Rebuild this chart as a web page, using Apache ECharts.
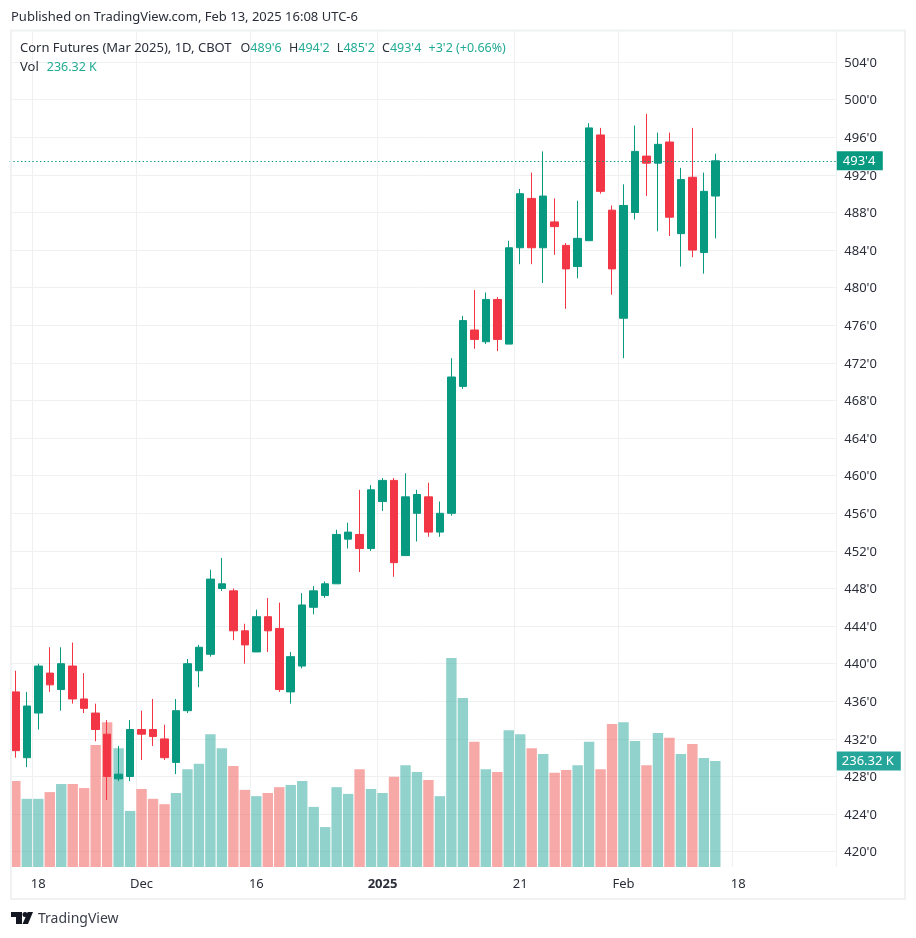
<!DOCTYPE html>
<html>
<head>
<meta charset="utf-8">
<style>
html, body { margin: 0; padding: 0; background: #fff; }
#chart { width: 916px; height: 938px; }
</style>
<script src="https://cdn.jsdelivr.net/npm/echarts@6/dist/echarts.min.js"></script>
</head>
<body>
<div id="chart"></div>
<script>
const dates = [
  'Nov 14','Nov 15','Nov 18','Nov 19','Nov 20','Nov 21','Nov 22','Nov 25','Nov 26','Nov 27','Nov 29',
  'Dec 2','Dec 3','Dec 4','Dec 5','Dec 6','Dec 9','Dec 10','Dec 11','Dec 12','Dec 13',
  'Dec 16','Dec 17','Dec 18','Dec 19','Dec 20','Dec 23','Dec 24','Dec 26','Dec 27','Dec 30','Dec 31',
  'Jan 2','Jan 3','Jan 6','Jan 7','Jan 8','Jan 9','Jan 10','Jan 13','Jan 14','Jan 15','Jan 16','Jan 17',
  'Jan 21','Jan 22','Jan 23','Jan 24','Jan 27','Jan 28','Jan 29','Jan 30','Jan 31',
  'Feb 3','Feb 4','Feb 5','Feb 6','Feb 7','Feb 10','Feb 11','Feb 12','Feb 13','Feb 14','Feb 18',
  'Feb 19','Feb 20','Feb 21','Feb 24','Feb 25','Feb 26','Feb 27','Feb 28'
];
const timeTicks = {'Nov 18': '18', 'Dec 2': 'Dec', 'Dec 16': '16', 'Jan 2': '2025', 'Jan 21': '21', 'Feb 3': 'Feb', 'Feb 18': '18'};

const opens = [437,430,434.75,439,437.25,439.75,436.25,434.75,432.5,427.75,428,433,433,432,429.5,435,439.25,441,448,447.75,
  443.5,441.25,445,443.75,437,439.75,446,447.25,448.5,453.25,453.75,452.25,457.25,459.5,451.5,456,457.75,454,456,469.5,
  475.5,474.25,478.75,474,484.25,489.5,484.25,487,484.5,482.25,485,496.25,488.25,476.75,488,494,493.25,495.5,485.75,491.75,483.75,489.75];
const closes = [430.75,435.5,439.75,437.75,440,436.25,435.25,433,428,428.25,433,432.5,432.25,430,435,440,441.75,449,448.5,443.5,
  442,445,443.5,437.25,440.75,446.25,447.75,448.5,453.75,454,452.25,458.5,459.5,450.75,457.75,458,454,456,470.5,476.5,
  474.5,478.75,474.5,484.25,490,484.25,489.75,486.5,482,485.25,497,490.25,482,488.75,494.5,493.25,495.25,487.5,491.5,484,490.25,493.5];
const lows = [430,429,433,437,435,435.75,434.75,431.75,425.5,427.5,427.5,429.75,431.25,429.75,428.25,434.75,437.5,440.75,447.75,442.5,
  440,441.25,441.25,437,435.75,439.5,445.25,447,448.5,452.25,449.75,452,456.25,449.25,451.5,453,453.5,453.5,455.75,469.25,
  473.5,474,473.25,474,482.5,482.5,480.5,483.5,477.75,481,485,490,479.25,472.5,487.25,489.75,486,485.5,482.25,483.25,481.5,485.25];
const highs = [439.25,437,440,441.75,441.75,442.25,439,435.75,434,431.25,434,435,436.25,433.5,436.25,440.5,442,450,451.25,448,
  444.25,445.75,447,446.5,441.25,447.5,448.25,448.75,454.25,455,458.5,459,459.75,459.75,460.25,458.5,459.25,457.25,472.5,477,
  479.75,479.5,479,485,490.5,492.25,494.5,489.5,484.75,489.25,497.5,497,488.75,491,497.25,498.5,496.5,496.5,492.75,497,492.25,494.25];
const volumes = [192,152,152,167,185,185,176,272,323,265,125,174,152,140,165,218,230,296,265,225,
  172,158,165,178,183,192,134,89,178,163,218,174,165,201,227,212,194,158,466,377,
  279,218,212,305,296,265,252,210,216,227,279,218,319,323,281,227,299,288,252,274,243,236.32];

const lastPriceLabel = "493'4";
const lastVolumeLabel = '236.32 K';
const lastPrice = 493.5;
const lastVolume = 236.32;

const green = '#089981';
const red = '#f23645';
const volGreen = 'rgba(38,166,154,0.5)';
const volRed = 'rgba(239,83,80,0.5)';
const gridColor = '#eff0f1';
const textColor = '#2a2e39';
const font = '"Noto Sans", sans-serif';

const candleData = opens.map((o, i) => [o, closes[i], lows[i], highs[i]]);
const volumeData = volumes.map((v, i) => ({
  value: v,
  itemStyle: {color: closes[i] >= opens[i] ? volGreen : volRed}
}));

const chart = echarts.init(document.getElementById('chart'), null, {renderer: 'canvas'});

chart.setOption({
  animation: false,
  backgroundColor: '#fff',
  textStyle: {fontFamily: font},
  title: [
    {
      text: 'Published on TradingView.com, Feb 13, 2025 16:08 UTC-6',
      left: 11, top: 11, padding: 0,
      textStyle: {fontSize: 13, fontWeight: 'normal', color: textColor, fontFamily: font}
    },
    {
      text: "{n|Corn Futures (Mar 2025), 1D, CBOT}{d|O}{g|489'6}{d|H}{g|494'2}{d|L}{g|485'2}{d|C}{g|493'4}{g|+3'2 (+0.66%)}\n{v|Vol}{g|236.32 K}",
      left: 20, top: 38.5, padding: 0,
      textStyle: {
        fontWeight: 'normal',
        rich: {
          n: {fontSize: 13, color: textColor, fontFamily: font, lineHeight: 19, padding: [0, 9, 0, 0]},
          d: {fontSize: 12.5, color: textColor, fontFamily: font, lineHeight: 19},
          v: {fontSize: 13, color: textColor, fontFamily: font, lineHeight: 19, padding: [0, 8, 0, 0]},
          g: {fontSize: 12.5, color: '#22ab94', fontFamily: font, lineHeight: 19, padding: [0, 7.2, 0, 0]}
        }
      }
    },
    {
      text: 'TradingView',
      left: 38, top: 912, padding: 0,
      textStyle: {fontSize: 14, fontWeight: 'normal', color: '#3a3e49', fontFamily: font}
    }
  ],
  grid: [
    {left: 9.6, width: 826.2, top: 62.1, height: 789.6},
    {left: 9.6, width: 826.2, top: 31, height: 836}
  ],
  xAxis: [
    {
      type: 'category', gridIndex: 0, data: dates,
      axisLine: {show: false}, axisTick: {show: false}, axisLabel: {show: false}, splitLine: {show: false}
    },
    {
      type: 'category', gridIndex: 1, data: dates,
      axisLine: {show: false}, axisTick: {show: false},
      axisLabel: {
        interval: (i, name) => name in timeTicks,
        formatter: name => name === 'Jan 2' ? '{b|2025}' : timeTicks[name],
        color: textColor, fontSize: 13, margin: 10.5,
        rich: {b: {fontWeight: 'bold', fontSize: 13, color: textColor}}
      },
      splitLine: {
        show: true,
        interval: (i, name) => name in timeTicks,
        lineStyle: {color: gridColor, width: 1}
      }
    }
  ],
  yAxis: [
    {
      type: 'value', gridIndex: 0, position: 'right',
      min: 420, max: 504, interval: 4,
      axisLine: {show: false}, axisTick: {show: false},
      axisLabel: {
        color: textColor, fontSize: 13, margin: 8.5,
        formatter: v => '{a|' + v + "'0}",
        rich: {a: {fontSize: 13, color: textColor, padding: [2, 0, 0, 0]}}
      },
      splitLine: {show: true, lineStyle: {color: gridColor, width: 1}}
    },
    {
      type: 'value', gridIndex: 1, position: 'right',
      min: 0, max: 1864,
      axisLine: {show: false}, axisTick: {show: false}, axisLabel: {show: false}, splitLine: {show: false}
    }
  ],
  series: [
    {
      name: 'Vol', type: 'bar', xAxisIndex: 1, yAxisIndex: 1,
      data: volumeData, barWidth: 10.4, z: 2,
      markLine: {
        silent: true, symbol: 'none',
        lineStyle: {width: 1, color: 'transparent'},
        data: [{yAxis: lastVolume}],
        label: {
          position: 'end', distance: 1, formatter: lastVolumeLabel,
          backgroundColor: '#26a69a', color: '#fff', fontSize: 13,
          width: 54, height: 19, lineHeight: 19, padding: [0, 5, 0, 5], align: 'left'
        }
      }
    },
    {
      name: 'Corn Futures', type: 'candlestick', xAxisIndex: 0, yAxisIndex: 0,
      data: candleData, barWidth: 8, z: 3,
      itemStyle: {color: green, color0: red, borderColor: green, borderColor0: red, borderWidth: 1},
      markLine: {
        silent: true, symbol: 'none', z: 10,
        lineStyle: {color: green, type: [1.4, 2.4], width: 1.2},
        data: [{yAxis: lastPrice}],
        label: {
          position: 'end', distance: 1, formatter: lastPriceLabel,
          backgroundColor: green, color: '#fff', fontSize: 13,
          width: 34, height: 19, lineHeight: 19, padding: [0, 6, 0, 6], align: 'left'
        }
      }
    }
  ],
  graphic: [
    {
      type: 'rect', z: 100,
      shape: {x: 11, y: 30.5, width: 894, height: 868.5},
      style: {fill: 'transparent', stroke: '#f0f1f2', lineWidth: 2}
    },
    {
      type: 'polygon', z: 100,
      shape: {points: [[11, 912], [22, 912], [22, 924], [16, 924], [16, 917], [11, 917]]},
      style: {fill: '#131722'}
    },
    {
      type: 'circle', z: 100,
      shape: {cx: 25, cy: 914.5, r: 2.5},
      style: {fill: '#131722'}
    },
    {
      type: 'polygon', z: 100,
      shape: {points: [[22.5, 924], [28, 924], [33, 912], [27.7, 912]]},
      style: {fill: '#131722'}
    }
  ]
});
</script>
</body>
</html>
